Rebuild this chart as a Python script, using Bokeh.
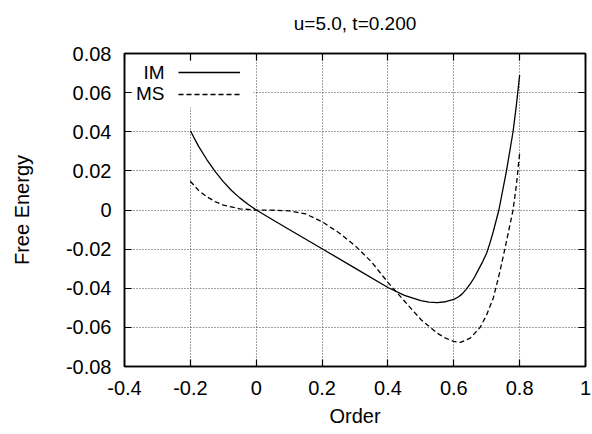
from bokeh.plotting import figure
from bokeh.models import (Range1d, LinearAxis, FixedTicker, Legend, LegendItem,
                          Label, BoxAnnotation, CustomJSTickFormatter)
from bokeh.embed import file_html
from bokeh.resources import INLINE

# ---- data ----
im_x = [-0.2, -0.175, -0.15, -0.125, -0.1, -0.075, -0.05, -0.025, 0.0, 0.1, 0.2, 0.3, 0.4,
        0.45, 0.5, 0.525, 0.55, 0.575, 0.6, 0.6125, 0.625, 0.6375, 0.65, 0.6625, 0.675,
        0.6875, 0.7, 0.71, 0.72, 0.737, 0.76, 0.78, 0.79, 0.8]
im_y = [0.0405, 0.0325, 0.0258, 0.0197, 0.0145, 0.0100, 0.0062, 0.0029, 0.0, -0.0100, -0.0198,
        -0.0297, -0.0396, -0.0436, -0.0463, -0.0471, -0.0474, -0.0469, -0.0457, -0.0446,
        -0.0430, -0.0406, -0.0378, -0.0345, -0.0305, -0.0265, -0.0220, -0.0168, -0.0110,
        0.0, 0.0200, 0.0400, 0.0535, 0.0690]

ms_x = [-0.2, -0.175, -0.15, -0.125, -0.1, -0.05, 0.0, 0.05, 0.1, 0.15, 0.2, 0.25, 0.3, 0.35,
        0.4, 0.45, 0.5, 0.55, 0.575, 0.6, 0.62, 0.65, 0.68, 0.7, 0.72, 0.74, 0.755, 0.78, 0.79, 0.8]
ms_y = [0.0147, 0.0100, 0.0068, 0.0043, 0.0025, 0.0006, 0.0, -0.0001, -0.0004, -0.0020, -0.0060,
        -0.0115, -0.0182, -0.0265, -0.0370, -0.0465, -0.0560, -0.0630, -0.0655, -0.0672, -0.0677,
        -0.0655, -0.0600, -0.0535, -0.0450, -0.0315, -0.0200, 0.0, 0.0125, 0.0290]

series_names = ["IM", "MS"]
title_text = "u=5.0, t=0.200"
x_label = "Order"
y_label = "Free Energy"
x_ticks = [-0.4, -0.2, 0.0, 0.2, 0.4, 0.6, 0.8, 1.0]
x_tick_labels = ["-0.4", "-0.2", "0", "0.2", "0.4", "0.6", "0.8", "1"]
y_ticks = [-0.08, -0.06, -0.04, -0.02, 0.0, 0.02, 0.04, 0.06, 0.08]
y_tick_labels = ["-0.08", "-0.06", "-0.04", "-0.02", "0", "0.02", "0.04", "0.06", "0.08"]

FONT = "Liberation Sans"

p = figure(width=592, height=434, output_backend="svg", toolbar_location=None,
           x_range=Range1d(-0.4, 1.0), y_range=Range1d(-0.08, 0.08),
           min_border_left=124, min_border_right=7, min_border_top=53, min_border_bottom=68,
           x_axis_label=x_label, y_axis_label=y_label)
p.title = None

p.outline_line_color = "black"
p.outline_line_width = 1.5
p.background_fill_color = "white"
p.border_fill_color = "white"

# grids
p.xgrid.ticker = FixedTicker(ticks=x_ticks)
p.ygrid.ticker = FixedTicker(ticks=y_ticks)
for g in (p.xgrid, p.ygrid):
    g.grid_line_color = "#444444"
    g.grid_line_dash = "1 2"
    g.grid_line_width = 1

# main axes
xa = p.xaxis[0]
ya = p.yaxis[0]
xa.ticker = FixedTicker(ticks=x_ticks)
ya.ticker = FixedTicker(ticks=y_ticks)
xa.major_label_overrides = {t: s for t, s in zip(x_ticks, x_tick_labels)}
ya.major_label_overrides = {t: s for t, s in zip(y_ticks, y_tick_labels)}
for ax in (xa, ya):
    ax.major_tick_in = 7
    ax.major_tick_out = 0
    ax.minor_tick_line_color = None
    ax.axis_line_color = "black"
    ax.axis_line_width = 1.5
    ax.major_tick_line_color = "black"
    ax.major_tick_line_width = 1.2
    ax.major_label_text_font = FONT
    ax.major_label_text_font_size = "20px"
    ax.major_label_text_color = "black"
    ax.axis_label_text_font = FONT
    ax.axis_label_text_font_size = "20px"
    ax.axis_label_text_font_style = "normal"
    ax.axis_label_text_color = "black"
xa.major_label_standoff = 14
xa.axis_label_standoff = 7
ya.major_label_standoff = 13
ya.axis_label_standoff = 30

# mirrored tick axes (top and right), no tick labels; the top one carries the title
empty = CustomJSTickFormatter(code="return '';")
top_axis = LinearAxis(ticker=FixedTicker(ticks=x_ticks), formatter=empty,
                      axis_label=title_text)
right_axis = LinearAxis(ticker=FixedTicker(ticks=y_ticks), formatter=empty)
for ax in (top_axis, right_axis):
    ax.major_tick_in = 7
    ax.major_tick_out = 0
    ax.minor_tick_line_color = None
    ax.major_label_standoff = 0
    ax.major_label_text_font_size = "1px"
    ax.axis_line_color = "black"
    ax.axis_line_width = 1.5
    ax.major_tick_line_color = "black"
    ax.major_tick_line_width = 1.2
top_axis.axis_label_text_font = FONT
top_axis.axis_label_text_font_size = "19px"
top_axis.axis_label_text_font_style = "normal"
top_axis.axis_label_text_color = "black"
top_axis.axis_label_standoff = 20
p.add_layout(top_axis, "above")
p.add_layout(right_axis, "right")

# curves
r_im = p.line(im_x, im_y, line_color="black", line_width=1.3)
r_ms = p.line(ms_x, ms_y, line_color="black", line_width=1.3, line_dash="5 3")

# key area blanks the grid (gnuplot style)
blank = BoxAnnotation(left=8, right=129, bottom=259, top=305,
                      left_units="screen", right_units="screen",
                      bottom_units="screen", top_units="screen",
                      fill_color="white", fill_alpha=1.0, line_color=None)
p.add_layout(blank)

legend = Legend(items=[LegendItem(label=" ", renderers=[r_im]),
                       LegendItem(label=" ", renderers=[r_ms])],
                location=(54, 262), orientation="vertical",
                glyph_width=62, glyph_height=20, label_standoff=0, label_width=0,
                label_height=20, label_text_font_size="10px", spacing=2,
                padding=0, margin=0, border_line_color=None,
                background_fill_alpha=0.0)
p.add_layout(legend)

for name, ypos in zip(series_names, (294.3, 272.7)):
    p.add_layout(Label(x=40, y=ypos, x_units="screen", y_units="screen", text=name,
                       text_align="right", text_baseline="middle",
                       text_font=FONT, text_font_size="19px", text_color="black"))

open("out.html", "w").write(file_html(p, INLINE))
